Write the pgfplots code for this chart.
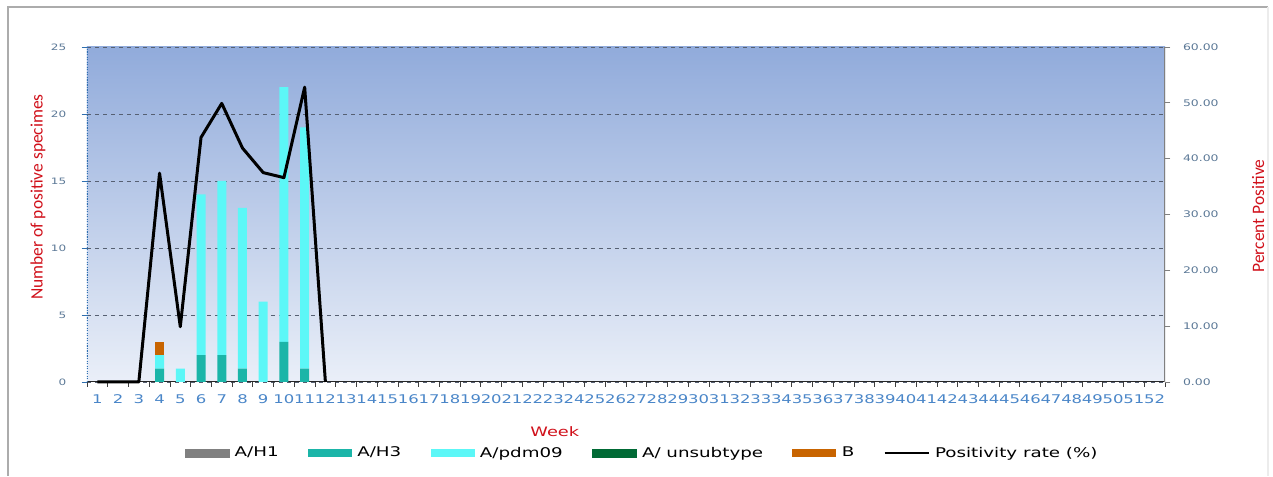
\documentclass[border=0pt]{standalone}
\usepackage{pgfplots}
\usepackage{pgfplotstable}
\pgfplotsset{compat=1.18}
\usepackage{fontspec}
\setmainfont{DejaVu Sans}
\newfontfamily\chartfont{DejaVu Sans}[FakeStretch=1.37]
\newfontfamily\titlefont{Carlito}
\definecolor{cH1}{HTML}{808080}
\definecolor{cH3}{HTML}{1BB5A8}
\definecolor{cpdm}{HTML}{5CF7F7}
\definecolor{cuns}{HTML}{006A35}
\definecolor{cB}{HTML}{C86400}
\definecolor{xtc}{HTML}{4A86C8}
\definecolor{ytc}{HTML}{5B7896}
\definecolor{titc}{HTML}{D0101A}
\definecolor{gridc}{HTML}{566072}
\definecolor{leftax}{HTML}{2F6FB0}
\definecolor{bgtop}{HTML}{91ABDB}
\definecolor{bgbot}{HTML}{EAEFF8}

\pgfplotstableread{
week H3 pdm B
4 1 1 1
5 0 1 0
6 2 12 0
7 2 13 0
8 1 12 0
9 0 6 0
10 3 19 0
11 1 18 0
}\bars

\pgfplotstableread{
week rate
1 0
2 0
3 0
4 37.4
5 9.9
6 43.8
7 49.9
8 41.9
9 37.5
10 36.6
11 52.8
12 0
}\rates

\begin{document}
\begin{tikzpicture}
\useasboundingbox (0pt,0pt) rectangle (954.75pt,357.75pt);
\draw[gray!65, line width=1.3pt] (6pt,0.75pt) -- (6pt,352.5pt) -- (951pt,352.5pt);
\draw[gray!15, line width=0.8pt] (951pt,352.5pt) -- (951pt,0.75pt);

\begin{axis}[
  at={(65.25pt,71.25pt)}, anchor=south west, scale only axis,
  width=808.5pt, height=251.25pt,
  xmin=0.5, xmax=52.5, ymin=0, ymax=25,
  ybar stacked, bar width=6.75pt,
  axis background/.style={top color=bgtop, bottom color=bgbot},
  axis line style={draw=none},
  xtick={1,...,52}, minor xtick={0.5,1.5,...,52.5},
  xtick pos=lower, ytick pos=left,
  major x tick style={draw=none},
  minor x tick style={draw=black!75, line width=0.6pt},
  y tick style={draw=leftax, line width=0.6pt},
  tick align=outside, major tick length=4pt, minor tick length=3.5pt,
  ytick={0,5,...,25},
  ymajorgrids, y grid style={dashed, color=gridc, line width=0.5pt},
  xticklabel style={font=\chartfont\fontsize{9}{10}\selectfont, text=xtc, yshift=-2pt},
  yticklabel style={font=\chartfont\fontsize{6.6}{8}\selectfont, text=ytc, xshift=-8pt},
  /pgf/number format/assume math mode=true,
  xlabel={Week},
  every axis x label/.style={at={(rel axis cs:0.434,-0.149)}, anchor=center, font=\chartfont\fontsize{9.75}{11}\selectfont, text=titc},
  ylabel={Number of positive specimes},
  every axis y label/.style={at={(rel axis cs:-0.0455,0.552)}, anchor=center, rotate=90, font=\titlefont\fontsize{13.1}{15}\selectfont, text=titc},
  legend style={at={(0.5153,-0.212)}, anchor=center, draw=none, fill=none,
    font=\chartfont\fontsize{10}{12}\selectfont, legend columns=-1,
    /tikz/every odd column/.append style={column sep=2pt},
    /tikz/every even column/.append style={column sep=20pt}},
  legend cell align=left,
]
\addlegendimage{legend image code/.code={\fill[cH1] (0pt,-3pt) rectangle (33pt,3pt);}}
\addlegendentry{A/H1}
\addplot[fill=cH3, draw=none, legend image code/.code={\fill[cH3] (0pt,-3pt) rectangle (33pt,3pt);}] table[x=week,y=H3]{\bars};
\addlegendentry{A/H3}
\addplot[fill=cpdm, draw=none, legend image code/.code={\fill[cpdm] (0pt,-3pt) rectangle (33pt,3pt);}] table[x=week,y=pdm]{\bars};
\addlegendentry{A/pdm09}
\addlegendimage{legend image code/.code={\fill[cuns] (0pt,-3pt) rectangle (33pt,3pt);}}
\addlegendentry{A/ unsubtype}
\addplot[fill=cB, draw=none, legend image code/.code={\fill[cB] (0pt,-3pt) rectangle (33pt,3pt);}] table[x=week,y=B]{\bars};
\addlegendentry{B}
\addlegendimage{legend image code/.code={\draw[black, line width=1.5pt] (0pt,0pt) -- (33pt,0pt);}}
\addlegendentry{Positivity rate (\%)}
\draw[color=leftax, densely dotted, line width=0.9pt] (rel axis cs:0,0) -- (rel axis cs:0,1);
\draw[color=gray, line width=0.9pt] (rel axis cs:1,0) -- (rel axis cs:1,1);
\draw[color=black!85, line width=0.9pt] (rel axis cs:0,0) -- (rel axis cs:1,0);
\end{axis}

\begin{axis}[
  at={(65.25pt,71.25pt)}, anchor=south west, scale only axis,
  width=808.5pt, height=251.25pt,
  xmin=0.5, xmax=52.5, ymin=0, ymax=60,
  axis line style={draw=none}, clip=false,
  xtick=\empty,
  ytick={0,10,...,60}, ytick pos=right, yticklabel pos=right,
  tick align=outside, major tick length=4pt,
  y tick style={draw=gray, line width=0.6pt},
  yticklabel style={font=\chartfont\fontsize{6.8}{8}\selectfont, text=ytc, xshift=6pt,
    /pgf/number format/.cd, fixed, fixed zerofill, precision=2, assume math mode=true},
  ylabel={Percent Positive},
  every axis y label/.style={at={(rel axis cs:1.0863,0.4955)}, anchor=center, rotate=90, font=\titlefont\fontsize{13.1}{15}\selectfont, text=titc},
]
\addplot[black, line width=2.25pt, line join=round, mark=none] table[x=week,y=rate]{\rates};
\end{axis}
\end{tikzpicture}
\end{document}
